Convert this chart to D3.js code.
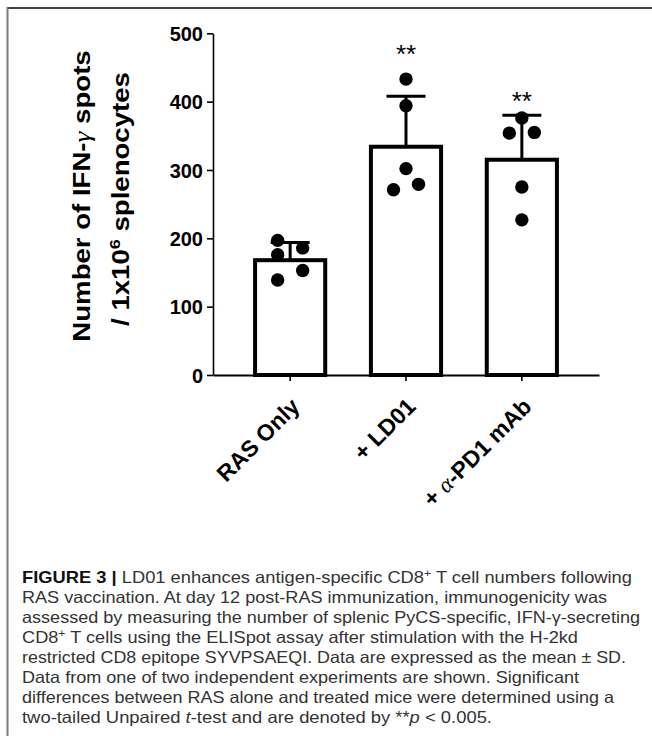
<!DOCTYPE html>
<html>
<head>
<meta charset="utf-8">
<script src="https://cdn.jsdelivr.net/npm/d3@7"></script>
<style>
  html, body { margin: 0; padding: 0; background: #fff; }
  svg { display: block; }
</style>
</head>
<body>
<svg id="chart" width="652" height="736"></svg>
<script>
// ---------- data ----------
const categories = ["RAS Only", "+ LD01", "+ \u03b1-PD1 mAb"];
const means = [168, 334, 315];
const sds = [26, 74, 65];
const pointsRAS = [197, 186, 176, 153, 139];
const pointsLD01 = [433, 394, 302, 271, 279];
const pointsPD1 = [376, 354, 355, 275, 227];
const pointColumns = [[-1, 1, -1, 1, -1], [0, 0, 0, -1, 1], [0, -1, 1, 0, 0]];
const significance = ["", "**", "**"];
const significanceY = [0, 476, 408];
const yTicks = [0, 100, 200, 300, 400, 500];

const groups = [pointsRAS, pointsLD01, pointsPD1];

const svg = d3.select("#chart");

// frame
svg.append("line").attr("x1", 7).attr("x2", 652).attr("y1", 8).attr("y2", 8)
  .attr("stroke", "#444").attr("stroke-width", 2);
svg.append("line").attr("x1", 7.5).attr("x2", 7.5).attr("y1", 7).attr("y2", 736)
  .attr("stroke", "#7a7a7a").attr("stroke-width", 2);

// scales
const x = d3.scaleBand().domain(categories).range([213, 599])
  .paddingInner(0.36).paddingOuter(0.346);
const y = d3.scaleLinear().domain([0, 500]).range([375, 33.3]);

const g = svg.append("g");

// bars
g.selectAll("rect.bar").data(categories).join("rect")
  .attr("class", "bar")
  .attr("x", d => x(d) + 2)
  .attr("width", x.bandwidth() - 4)
  .attr("y", (d, i) => y(means[i]))
  .attr("height", (d, i) => y(0) - y(means[i]))
  .attr("fill", "#fff").attr("stroke", "#000").attr("stroke-width", 4);

// error bars (upper only)
const capHalf = 19.5;
categories.forEach((c, i) => {
  const cx = x(c) + x.bandwidth() / 2;
  g.append("line").attr("x1", cx).attr("x2", cx)
    .attr("y1", y(means[i])).attr("y2", y(means[i] + sds[i]))
    .attr("stroke", "#000").attr("stroke-width", 3);
  g.append("line").attr("x1", cx - capHalf).attr("x2", cx + capHalf)
    .attr("y1", y(means[i] + sds[i])).attr("y2", y(means[i] + sds[i]))
    .attr("stroke", "#000").attr("stroke-width", 3);
});

// points
categories.forEach((c, i) => {
  const cx = x(c) + x.bandwidth() / 2;
  g.selectAll(null).data(groups[i]).join("circle")
    .attr("cx", (d, j) => cx + pointColumns[i][j] * 12.5)
    .attr("cy", d => y(d))
    .attr("r", 6.7)
    .attr("fill", "#000");
});

// significance stars
categories.forEach((c, i) => {
  if (!significance[i]) return;
  const cx = x(c) + x.bandwidth() / 2;
  g.append("text").attr("x", cx).attr("y", y(significanceY[i]) + 13.5)
    .attr("text-anchor", "middle")
    .attr("font-family", "Liberation Sans, Arial, sans-serif")
    .attr("font-size", 26).attr("fill", "#000")
    .text(significance[i]);
});

// y axis
const yAxis = d3.axisLeft(y).tickValues(yTicks).tickSize(6).tickPadding(4).tickSizeOuter(0);
const ya = svg.append("g").attr("transform", "translate(213,0)").call(yAxis);
ya.select(".domain").attr("stroke-width", 1.6);
ya.selectAll(".tick line").attr("stroke-width", 1.6);
ya.selectAll(".tick text")
  .attr("font-family", "Liberation Sans, Arial, sans-serif")
  .attr("font-weight", "bold").attr("font-size", 20).attr("fill", "#000")
  .attr("dy", "0.36em");

// x axis
const xAxis = d3.axisBottom(x).tickSize(6).tickSizeOuter(0).tickFormat("");
const xa = svg.append("g").attr("transform", "translate(0,375)").call(xAxis);
xa.select(".domain").attr("stroke-width", 2);
xa.selectAll(".tick line").attr("stroke-width", 1.6);

// x labels (rotated 45°)
categories.forEach((c, i) => {
  const cx = x(c) + x.bandwidth() / 2;
  const t = svg.append("text")
    .attr("transform", `translate(${cx + 11},${408}) rotate(-45)`)
    .attr("text-anchor", "end")
    .attr("font-family", "Liberation Sans, Arial, sans-serif")
    .attr("font-weight", "bold").attr("font-size", 23).attr("fill", "#000");
  if (c.includes("\u03b1")) {
    t.append("tspan").text("+ ");
    t.append("tspan").attr("font-family", "Liberation Serif, Times New Roman, serif")
      .attr("font-weight", "normal").attr("font-style", "italic").text("\u03b1");
    t.append("tspan").text("-PD1 mAb");
  } else {
    t.text(c);
  }
});

// y label
const yl = svg.append("text")
  .attr("transform", "translate(90,196) scale(1,1.2) rotate(-90)")
  .attr("text-anchor", "middle")
  .attr("font-family", "Liberation Sans, Arial, sans-serif")
  .attr("font-weight", "bold").attr("font-size", 23).attr("fill", "#000");
yl.append("tspan").text("Number of IFN-");
yl.append("tspan").attr("font-family", "Liberation Serif, Times New Roman, serif")
  .attr("font-weight", "normal").attr("font-style", "italic").text("\u03b3");
yl.append("tspan").text(" spots");
const yl2 = svg.append("text")
  .attr("transform", "translate(129,199) scale(1,1.2) rotate(-90)")
  .attr("text-anchor", "middle")
  .attr("font-family", "Liberation Sans, Arial, sans-serif")
  .attr("font-weight", "bold").attr("font-size", 23).attr("fill", "#000");
yl2.append("tspan").text("/ 1x10");
yl2.append("tspan").attr("font-size", 15).attr("dy", -9).text("6");
yl2.append("tspan").attr("dy", 9).text(" splenocytes");

// caption
const capLines = [
  [["b", "FIGURE 3 | "], ["n", "LD01 enhances antigen-specific CD8"], ["sup", "+"], ["n", " T cell numbers following"]],
  [["n", "RAS vaccination. At day 12 post-RAS immunization, immunogenicity was"]],
  [["n", "assessed by measuring the number of splenic PyCS-specific, IFN-\u03b3-secreting"]],
  [["n", "CD8"], ["sup", "+"], ["n", " T cells using the ELISpot assay after stimulation with the H-2kd"]],
  [["n", "restricted CD8 epitope SYVPSAEQI. Data are expressed as the mean \u00b1 SD."]],
  [["n", "Data from one of two independent experiments are shown. Significant"]],
  [["n", "differences between RAS alone and treated mice were determined using a"]],
  [["n", "two-tailed Unpaired "], ["i", "t"], ["n", "-test and are denoted by **"], ["i", "p"], ["n", " < 0.005."]]
];
const capWidths = [610, 585, 618, 556, 604, 557, 592, 470];
capLines.forEach((line, li) => {
  const t = svg.append("text")
    .attr("x", 22).attr("y", 583 + li * 20)
    .attr("font-family", "Liberation Sans, Arial, sans-serif")
    .attr("font-size", 16.5).attr("fill", "#333")
    .attr("textLength", capWidths[li]).attr("lengthAdjust", "spacingAndGlyphs");
  line.forEach(([k, s]) => {
    const ts = t.append("tspan").text(s);
    if (k === "b") ts.attr("font-weight", "bold").attr("fill", "#111");
    if (k === "i") ts.attr("font-style", "italic");
    if (k === "sup") ts.attr("font-size", 11).attr("baseline-shift", "super");
  });
});
</script>
</body>
</html>
